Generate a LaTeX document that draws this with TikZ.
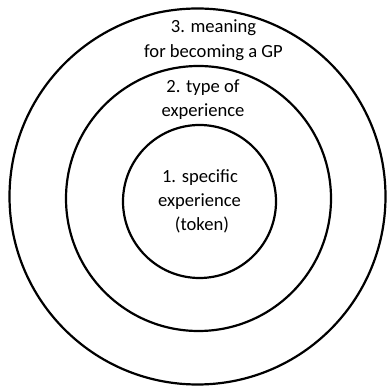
\documentclass[tikz,border=0pt]{standalone}
\usepackage{fontspec}
\setmainfont{Carlito}
\begin{document}
\begin{tikzpicture}[x=1pt,y=1pt,
  ring/.style={draw=black,line width=2.2pt,circle,inner sep=0pt},
  lbl/.style={anchor=base,inner sep=0pt,font=\fontsize{18.6}{22}\selectfont}]
\useasboundingbox (0,0) rectangle (387,388);
\node[ring,minimum size=376pt] (outer) at (197.5,191.5) {};
\node[ring,minimum size=265pt] (middle) at (198.5,189.5) {};
\node[ring,minimum size=153pt] (inner) at (199.5,186.5) {};
\node[lbl] (t3a) at (213.5,355) {3. meaning};
\node[lbl] (t3b) at (213.5,330) {for becoming a GP};
\node[lbl] (t2a) at (203,295) {2. type of};
\node[lbl] (t2b) at (203,271) {experience};
\node[lbl] (t1a) at (200,205) {1. specific};
\node[lbl] (t1b) at (199.5,181) {experience};
\node[lbl] (t1c) at (202,157) {(token)};
\end{tikzpicture}
\end{document}
